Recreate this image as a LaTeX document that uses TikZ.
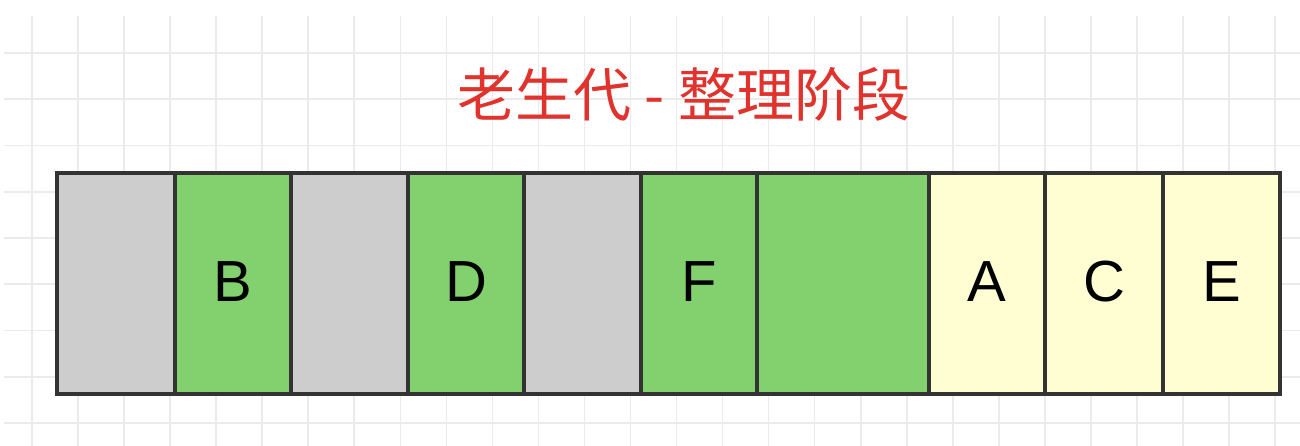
\documentclass[tikz,border=0pt]{standalone}
\usepackage{fontspec}
\setmainfont{Liberation Sans}
\newfontfamily\cjk{Noto Sans CJK SC}
\definecolor{gridc}{HTML}{EBEBEB}
\definecolor{cellgray}{HTML}{CDCDCD}
\definecolor{cellgreen}{HTML}{83D06F}
\definecolor{cellyellow}{HTML}{FFFDD2}
\definecolor{edgec}{HTML}{333333}
\definecolor{titlered}{HTML}{E0332E}
\tikzset{
  gridline/.style={draw=gridc, line width=1.6pt},
  cellbox/.style={draw=edgec, line width=3.4pt, rectangle, inner sep=0pt, minimum height=221pt},
  celltext/.style={font=\fontsize{58}{60}\selectfont, text=black, inner sep=0pt},
  titletext/.style={font=\cjk\fontsize{58}{60}\selectfont, text=titlered, inner sep=0pt}
}
\begin{document}
\begin{tikzpicture}[x=1pt,y=-1pt]
\useasboundingbox (0,0) rectangle (1300,446);
\fill[white] (0,0) rectangle (1300,446);
% background grid
\foreach \k in {0,...,27} {
  \draw[gridline] ({32+46.04*\k},16) -- ({32+46.04*\k},446);
}
\foreach \k in {0,...,8} {
  \draw[gridline] (4,{53+46.25*\k}) -- (1300,{53+46.25*\k});
}
% title
\node[titletext] (title) at (684,94) {老生代 - 整理阶段};
% cells
\node[cellbox, fill=cellgray,   minimum width=118pt] (c1)  at (116,283.5) {};
\node[cellbox, fill=cellgreen,  minimum width=116pt] (c2)  at (233,283.5) {};
\node[cellbox, fill=cellgray,   minimum width=117pt] (c3)  at (349.5,283.5) {};
\node[cellbox, fill=cellgreen,  minimum width=116pt] (c4)  at (466,283.5) {};
\node[cellbox, fill=cellgray,   minimum width=117pt] (c5)  at (582.5,283.5) {};
\node[cellbox, fill=cellgreen,  minimum width=116pt] (c6)  at (699,283.5) {};
\node[cellbox, fill=cellgreen,  minimum width=172pt] (c7)  at (843,283.5) {};
\node[cellbox, fill=cellyellow, minimum width=116pt] (c8)  at (987,283.5) {};
\node[cellbox, fill=cellyellow, minimum width=118pt] (c9)  at (1104,283.5) {};
\node[cellbox, fill=cellyellow, minimum width=117pt] (c10) at (1221.5,283.5) {};
% labels
\node[celltext] (lb) at ([yshift=2pt]c2.center) {B};
\node[celltext] (ld) at ([yshift=2pt]c4.center) {D};
\node[celltext] (lf) at ([yshift=2pt]c6.center) {F};
\node[celltext] (la) at ([yshift=2pt]c8.center) {A};
\node[celltext] (lc) at ([yshift=2pt]c9.center) {C};
\node[celltext] (le) at ([yshift=2pt]c10.center) {E};
\end{tikzpicture}
\end{document}
